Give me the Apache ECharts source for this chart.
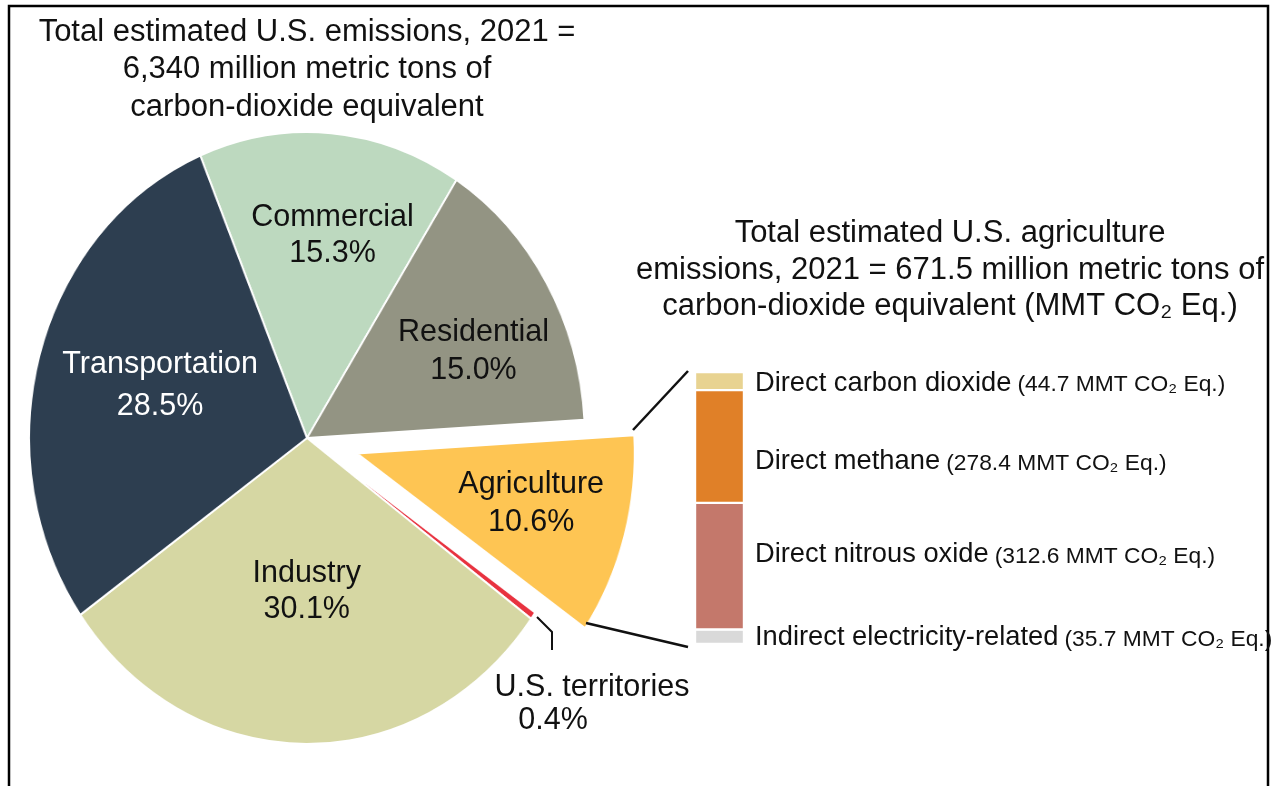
<!DOCTYPE html>
<html><head><meta charset="utf-8">
<script src="https://cdn.jsdelivr.net/npm/echarts@6/dist/echarts.min.js"></script>
<style>
html,body{margin:0;padding:0;background:#fff;}
#wrap{position:relative;width:1276px;height:786px;overflow:hidden;background:#fff;}
#pie{position:absolute;left:0;top:0;width:1276px;height:786px;transform:scaleX(0.908);transform-origin:307px 438px;}
#main{position:absolute;left:0;top:0;width:1276px;height:786px;}
</style></head><body>
<div id="wrap"><div id="pie"></div><div id="main"></div></div>
<script>
// ---- data ----
const sectors = ['Commercial', 'Residential', 'Agriculture', 'U.S. territories', 'Industry', 'Transportation'];
const shares = [15.3, 15.0, 10.6, 0.4, 30.1, 28.5];
const agCategories = ['Direct carbon dioxide', 'Direct methane', 'Direct nitrous oxide', 'Indirect electricity-related'];
const agValues = [44.7, 278.4, 312.6, 35.7];
const totalUS = '6,340';
const totalAg = '671.5';

// ---- styles ----
const FONT = '"Liberation Sans", Arial, sans-serif';
const sectorColors = ['#bdd9bf', '#939483', '#fec553', '#e8323f', '#d6d7a3', '#2d3e50'];
const barColors = ['#e8d391', '#e08028', '#c4786b', '#d9d9d9'];
const barLabelOffsets = [[0, 2], [0, 15], [0, -12], [0, 1]];
const pieLabelStyle = {
  'Commercial': { offset: [12, -47], lineHeight: 36 },
  'Residential': { offset: [32, -7], lineHeight: 38 },
  'Agriculture': { offset: [74, 23], lineHeight: 38 },
  'U.S. territories': { offset: [158, 175] },
  'Industry': { offset: [1, -2], lineHeight: 36 },
  'Transportation': { offset: [3, -9], lineHeight: 42 }
};
const START = 112.6;
const CX = 307, CY = 438, R = 306;

// ---- pie (elliptical via horizontal scale of its container) ----
const pieChart = echarts.init(document.getElementById('pie'));
pieChart.setOption({
  animation: false,
  series: [{
    type: 'pie',
    center: [CX, CY],
    radius: [0, R],
    startAngle: START,
    clockwise: true,
    selectedMode: 'single',
    selectedOffset: 57,
    silent: true,
    emphasis: { disabled: true },
    label: { show: false },
    labelLine: { show: false },
    itemStyle: { borderColor: '#fff', borderWidth: 2 },
    data: sectors.map((n, i) => ({
      name: n, value: shares[i], selected: n === 'Agriculture',
      itemStyle: { color: sectorColors[i] }
    }))
  }]
});

// ---- overlay: titles, labels, bar ----
const agTotal = agValues.reduce((a, b) => a + b, 0);
const chart = echarts.init(document.getElementById('main'));

const barSeries = agCategories.map((c, i) => ({
  name: c,
  type: 'bar',
  stack: 'ag',
  barWidth: '100%',
  silent: true,
  data: [agValues[i]],
  itemStyle: { color: barColors[i], borderColor: '#fff', borderWidth: 1.2 },
  label: {
    show: true,
    position: 'right',
    distance: 11,
    offset: barLabelOffsets[i],
    formatter: () => '{n|' + c + '}{s| }{p|(' + agValues[i] + ' MMT CO\u2082 Eq.)}',
    rich: {
      n: { fontSize: 27.3, fontFamily: FONT, color: '#111' },
      s: { fontSize: 22, fontFamily: FONT },
      p: { fontSize: 22.8, fontFamily: FONT, color: '#111', padding: [4, 0, 0, 0] }
    }
  }
})).reverse();

const labelPie = {
  type: 'pie',
  center: [CX, CY],
  radius: [0, R],
  startAngle: START,
  clockwise: true,
  silent: true,
  z: 10,
  emphasis: { disabled: true },
  itemStyle: { color: 'rgba(0,0,0,0)', borderWidth: 0 },
  labelLine: { show: false },
  label: {
    show: true,
    position: 'inside',
    fontSize: 30.5,
    lineHeight: 38,
    fontFamily: FONT,
    color: '#111',
    formatter: p => p.name === 'U.S. territories'
      ? '{t|' + p.name + '}\n{q|' + p.value.toFixed(1) + '%}'
      : p.name + '\n' + p.value.toFixed(1) + '%',
    rich: {
      t: { fontSize: 30.5, lineHeight: 33, fontFamily: FONT, color: '#111' },
      q: { fontSize: 30.5, lineHeight: 33, fontFamily: FONT, color: '#111', padding: [0, 78, 0, 0] }
    }
  },
  data: sectors.map((n, i) => ({
    name: n, value: shares[i],
    label: Object.assign({ color: n === 'Transportation' ? '#fff' : '#111' }, pieLabelStyle[n])
  }))
};

chart.setOption({
  animation: false,
  backgroundColor: 'transparent',
  grid: { left: 695, top: 372, width: 49, height: 272 },
  xAxis: { type: 'category', data: ['Agriculture'], show: false },
  yAxis: { type: 'value', min: 0, max: agTotal, show: false },
  series: barSeries.concat([labelPie]),
  graphic: [
    { type: 'rect', silent: true, shape: { x: 9, y: 6, width: 1259, height: 900 },
      style: { fill: 'none', stroke: '#000', lineWidth: 2.5 } },
    { type: 'text', x: 307, y: 13.5, silent: true,
      style: { text: 'Total estimated U.S. emissions, 2021 =\n' + totalUS + ' million metric tons of\ncarbon-dioxide equivalent',
        fontSize: 31, lineHeight: 37.5, fontFamily: FONT, fill: '#111', align: 'center', verticalAlign: 'top' } },
    { type: 'text', x: 950, y: 215.5, silent: true,
      style: { text: 'Total estimated U.S. agriculture\nemissions, 2021 = ' + totalAg + ' million metric tons of\ncarbon-dioxide equivalent (MMT CO\u2082 Eq.)',
        fontSize: 31, lineHeight: 36.5, fontFamily: FONT, fill: '#111', align: 'center', verticalAlign: 'top' } },
    { type: 'line', silent: true, shape: { x1: 633, y1: 430, x2: 688, y2: 371 },
      style: { stroke: '#111', lineWidth: 2.5 } },
    { type: 'line', silent: true, shape: { x1: 586, y1: 623, x2: 688, y2: 647 },
      style: { stroke: '#111', lineWidth: 2.5 } },
    { type: 'polyline', silent: true, shape: { points: [[537, 617], [552, 632], [552, 650]] },
      style: { stroke: '#111', lineWidth: 2, fill: null } }
  ]
});
</script>
</body></html>
